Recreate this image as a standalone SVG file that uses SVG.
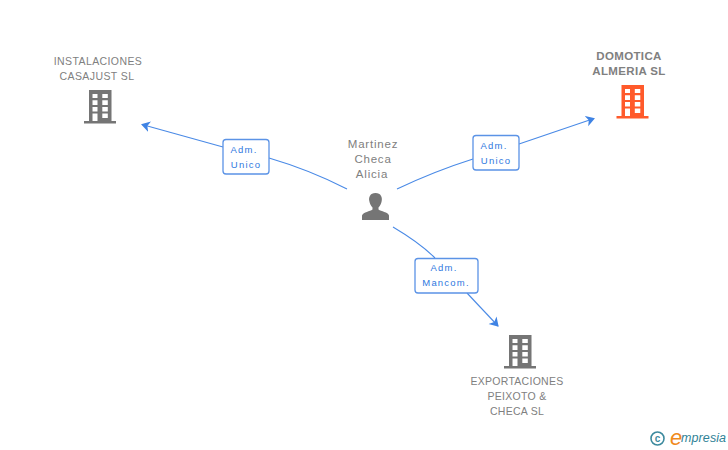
<svg xmlns="http://www.w3.org/2000/svg" width="728" height="450" viewBox="0 0 728 450">
<style>
text{font-family:"Liberation Sans",Arial,sans-serif}
.n{font-size:10.5px;fill:#808080;text-anchor:middle;letter-spacing:.4px}
.b{font-weight:bold;font-size:11.500px;letter-spacing:.35px}
.p{font-size:11.500px;letter-spacing:.8px}
.l{font-size:9.500px;fill:#2f78e0;text-anchor:middle;letter-spacing:1.2px}
.c{fill:none;stroke:#4a8ae6;stroke-width:1.100}
.box{fill:#fff;stroke:#5b93e6;stroke-width:1.300}
</style>
<defs>
<marker id="a" markerWidth="12" markerHeight="12" refX="8" refY="5.500" orient="auto" markerUnits="userSpaceOnUse"><path d="M0 0L9 5.500L0 11L2.500 5.500Z" fill="#3f83e4"/></marker>
<g id="bld">
<path fill-rule="evenodd" d="M5 0H27.500V31H32V33.500H0V31H5ZM8.500 4V8H13.500V4ZM18.300 4V8H23.800V4ZM8.500 10.300V15H13.500V10.300ZM18.300 10.300V15H23.800V10.300ZM8.500 17V21.500H13.500V17ZM18.300 17V21.500H23.800V17ZM8.500 23.500V31H13.500V23.500ZM18.300 23.500V28H23.800V23.500Z"/>
</g>
</defs>
<g id="connectors">
<path class="c" d="M347 189Q310 170 269 158"/>
<path class="c" marker-end="url(#a)" d="M223 147L142 124.500"/>
<path class="c" d="M397 189Q435 171 473 159"/>
<path class="c" marker-end="url(#a)" d="M519 144L594 118.500"/>
<path class="c" d="M393 227Q420 243 435 258"/>
<path class="c" marker-end="url(#a)" d="M467 293L498 326"/>
</g>
<g id="node-instalaciones">
<text class="n" x="98" y="65">INSTALACIONES</text>
<text class="n" x="97" y="80">CASAJUST SL</text>
<use href="#bld" x="84" y="90" fill="#757575"/>
</g>
<g id="node-domotica">
<text class="n b" x="629" y="60">DOMOTICA</text>
<text class="n b" x="629" y="75">ALMERIA SL</text>
<use href="#bld" x="616.500" y="85" fill="#ff5a2b"/>
</g>
<g id="node-martinez">
<text class="n p" x="373" y="148">Martinez</text>
<text class="n p" x="373" y="163">Checa</text>
<text class="n p" x="372" y="178">Alicia</text>
<path fill="#757575" d="M375.500 193C370 193 368.500 197.500 369.300 201C369.800 204 371 206 372.500 207.500V209.500C370 211.500 363.500 212 362 215.500V220H389V215.500C388 212 381 211.500 378.500 209.500V207.500C380 206 381.200 204 381.700 201C382.500 197.500 381 193 375.500 193Z"/>
</g>
<g id="node-exportaciones">
<use href="#bld" x="504" y="335" fill="#757575"/>
<text class="n" x="517" y="385" style="letter-spacing:.28px">EXPORTACIONES</text>
<text class="n" x="517" y="400" style="letter-spacing:.28px">PEIXOTO &amp;</text>
<text class="n" x="517" y="415" style="letter-spacing:.28px">CHECA SL</text>
</g>
<g id="label-1">
<rect class="box" x="223" y="139.500" width="46" height="34.500" rx="3"/>
<text class="l" x="244" y="153">Adm.</text>
<text class="l" x="246" y="168">Unico</text>
</g>
<g id="label-2">
<rect class="box" x="473" y="135.500" width="46" height="34.500" rx="3"/>
<text class="l" x="494" y="149">Adm.</text>
<text class="l" x="496" y="164">Unico</text>
</g>
<g id="label-3">
<rect class="box" x="415" y="258.500" width="63" height="34.500" rx="3"/>
<text class="l" x="444" y="271">Adm.</text>
<text class="l" x="446" y="286">Mancom.</text>
</g>
<g id="logo">
<circle cx="657.500" cy="438.500" r="6.500" fill="none" stroke="#3d8a9e" stroke-width="1.600"/>
<text x="657.500" y="442" font-size="10" font-weight="bold" fill="#3d8a9e" text-anchor="middle">c</text>
<text x="670" y="445" font-size="22" font-style="italic" fill="#f08a1d" font-family="Liberation Serif,serif">e</text>
<text x="681" y="442" font-size="12.500" font-style="italic" fill="#2f8296" letter-spacing=".1">mpresia</text>
</g>
</svg>
